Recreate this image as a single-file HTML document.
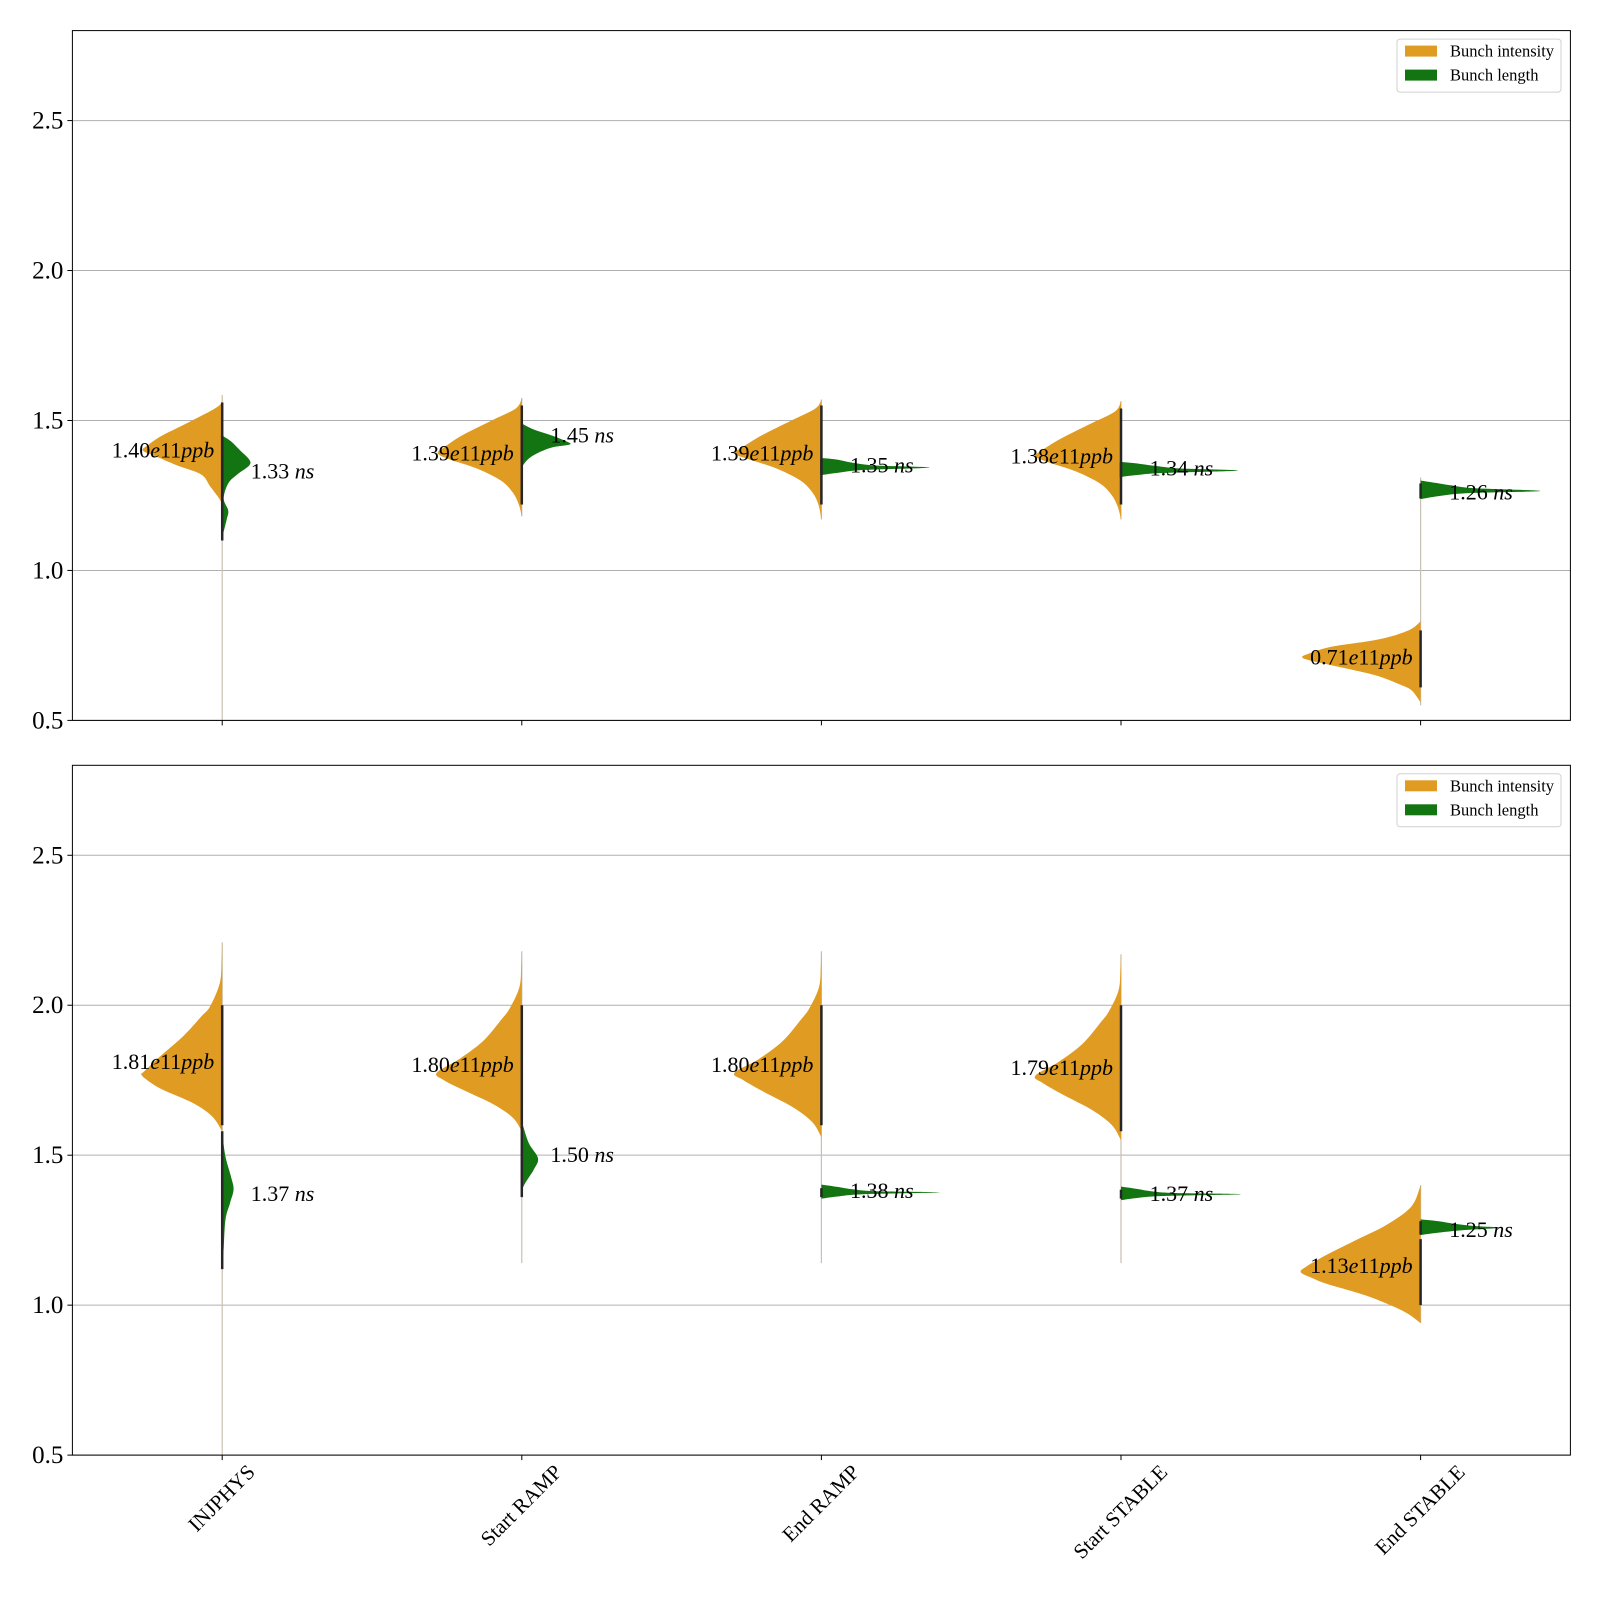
<!DOCTYPE html>
<html><head><meta charset="utf-8"><style>
html,body{margin:0;padding:0;background:#fff;}
svg{display:block;font-family:"Liberation Serif","DejaVu Serif",serif;}
</style></head><body>
<svg id="chart" width="1600" height="1600" viewBox="0 0 1600 1600" xmlns="http://www.w3.org/2000/svg"></svg>
<script>
const categories = ["INJPHYS","Start RAMP","End RAMP","Start STABLE","End STABLE"];
const yTicks = [0.5,1.0,1.5,2.0,2.5];
// profiles: [value, density(% of category spacing)]
const topOrange = [
 [[1.585,0],[1.55,1],[1.50,10],[1.45,20],[1.42,24.5],[1.40,26.5],[1.38,22],[1.35,15],[1.32,7],[1.28,4],[1.24,1],[1.22,0]],
 [[1.575,0],[1.54,2],[1.50,10],[1.45,20],[1.41,26],[1.39,28],[1.37,24],[1.34,15],[1.30,7],[1.26,3],[1.22,1],[1.18,0]],
 [[1.57,0],[1.54,2],[1.50,10],[1.45,20],[1.41,26.5],[1.39,29],[1.37,24],[1.34,15],[1.30,7],[1.26,3],[1.22,1],[1.17,0]],
 [[1.565,0],[1.53,2],[1.49,10],[1.44,20],[1.40,26.5],[1.38,28.6],[1.36,24],[1.33,15],[1.29,7],[1.25,3],[1.21,1],[1.17,0]],
 [[0.83,0],[0.80,4],[0.77,14],[0.745,30],[0.72,38],[0.71,39.5],[0.70,37],[0.68,28],[0.65,15],[0.62,7],[0.60,3],[0.56,0]]
];
const topGreen = [
 [[1.45,0],[1.43,3],[1.40,6],[1.37,9],[1.35,9],[1.32,5],[1.29,2],[1.24,0.5],[1.20,2],[1.17,1.5],[1.11,0]],
 [[1.49,0],[1.47,4],[1.45,10],[1.43,15],[1.42,16],[1.41,10],[1.39,5],[1.37,2],[1.345,0]],
 [[1.375,0],[1.37,5],[1.36,10],[1.35,18],[1.343,36],[1.335,14],[1.325,5],[1.318,0]],
 [[1.362,0],[1.356,6],[1.348,12],[1.34,20],[1.333,39],[1.325,14],[1.318,5],[1.312,0]],
 [[1.30,0],[1.292,5],[1.284,10],[1.274,18],[1.265,40],[1.258,16],[1.248,6],[1.238,0]]
];
const botOrange = [
 [[2.21,0],[2.152,0.2],[2.074,0.8],[1.997,4],[1.963,6.9],[1.897,13],[1.83,20.7],[1.78,26],[1.769,27],[1.75,25],[1.719,20],[1.674,9.8],[1.63,3.4],[1.58,0]],
 [[2.18,0],[2.13,0.2],[2.06,0.8],[1.99,4],[1.95,7],[1.88,13],[1.82,21],[1.775,28.4],[1.75,26],[1.715,19],[1.67,9.5],[1.625,3],[1.58,0]],
 [[2.18,0],[2.13,0.2],[2.06,0.8],[1.99,4],[1.95,7],[1.88,13],[1.82,21],[1.775,29],[1.75,26],[1.71,19],[1.66,9.5],[1.61,3],[1.56,0]],
 [[2.17,0],[2.12,0.2],[2.05,0.8],[1.98,4],[1.94,7],[1.87,13],[1.81,21],[1.765,28.6],[1.74,26],[1.70,19],[1.65,9.5],[1.60,3],[1.55,0]],
 [[1.40,0],[1.33,3],[1.27,11],[1.22,21],[1.17,31],[1.13,38],[1.11,40],[1.09,36],[1.07,31],[1.03,17.7],[0.98,5.8],[0.94,0]]
];
const botGreen = [
 [[1.58,0],[1.5,1],[1.43,2.9],[1.386,3.8],[1.34,2.6],[1.286,1.1],[1.19,0.5],[1.12,0]],
 [[1.613,0],[1.541,2.3],[1.49,5.4],[1.452,4],[1.397,0.6],[1.363,0]],
 [[1.402,0],[1.395,5],[1.387,10],[1.38,18],[1.376,39.5],[1.37,14],[1.362,5],[1.355,0]],
 [[1.395,0],[1.388,5],[1.38,10],[1.374,18],[1.37,40],[1.364,14],[1.357,5],[1.35,0]],
 [[1.286,0],[1.28,6],[1.272,11],[1.264,18],[1.258,26.6],[1.25,14],[1.242,6],[1.234,0]]
];
const topStick = [[0.5,1.585],[1.18,1.575],[1.17,1.57],[1.17,1.565],[0.55,1.31]];
const botStick = [[0.5,2.21],[1.14,2.18],[1.14,2.18],[1.14,2.17],[0.94,1.40]];
const topDarkO = [[1.24,1.56],[1.22,1.55],[1.22,1.55],[1.22,1.54],[0.61,0.80]];
const topDarkG = [[1.10,1.45],[1.36,1.49],[1.32,1.37],[1.31,1.36],[1.24,1.29]];
const botDarkO = [[1.6,2.0],[1.6,2.0],[1.6,2.0],[1.58,2.0],[1.0,1.22]];
const botDarkG = [[1.12,1.58],[1.36,1.6],[1.36,1.39],[1.355,1.385],[1.235,1.28]];
const topMedO = [1.40,1.39,1.39,1.38,0.71];
const topMedG = [1.33,1.45,1.35,1.34,1.26];
const botMedO = [1.81,1.80,1.80,1.79,1.13];
const botMedG = [1.37,1.50,1.38,1.37,1.25];

const NS="http://www.w3.org/2000/svg";
const svg=document.getElementById('chart');
const ORANGE="#e09b22", GREEN="#127512";
const X0=72.4, X1=1570.4, YMIN=0.5, YMAX=2.8;
const step=(X1-X0)/categories.length;
function xPos(i){return X0+(i+0.5)*step;}
function wPx(d){return d/100*step;}
function mk(tag,attrs,parent){const e=document.createElementNS(NS,tag);for(const k in attrs)e.setAttribute(k,attrs[k]);(parent||svg).appendChild(e);return e;}
function spline(pts){
  let d="";
  for(let i=0;i<pts.length-1;i++){
    const p0=pts[Math.max(0,i-1)],p1=pts[i],p2=pts[i+1],p3=pts[Math.min(pts.length-1,i+2)];
    const c1=[p1[0]+(p2[0]-p0[0])/6,p1[1]+(p2[1]-p0[1])/6];
    const c2=[p2[0]-(p3[0]-p1[0])/6,p2[1]-(p3[1]-p1[1])/6];
    d+=` C${c1[0].toFixed(1)},${c1[1].toFixed(1)} ${c2[0].toFixed(1)},${c2[1].toFixed(1)} ${p2[0].toFixed(1)},${p2[1].toFixed(1)}`;
  }
  return d;
}
function panel(top,bottom,name,orange,green,stick,darkO,darkG,medO,medG,showX){
  const g=mk('g',{});
  
  
  const yS=v=>top+(YMAX-v)/(YMAX-YMIN)*(bottom-top);
  yTicks.forEach(t=>{
    const l=mk('line',{x1:X0,x2:X1,y1:yS(t),y2:yS(t),stroke:'#b0b0b0','stroke-width':1},g);
    
    
    const tk=mk('line',{x1:X0-5,x2:X0,y1:yS(t),y2:yS(t),stroke:'#000','stroke-width':1},g);
    
    
    const tx=mk('text',{x:X0-9,y:yS(t)+8,'text-anchor':'end','font-size':25},g);
    tx.textContent=t.toFixed(1);
    
    
  });
  categories.forEach((c,i)=>{
    const cx=xPos(i);
    const tk=mk('line',{x1:cx,x2:cx,y1:bottom,y2:bottom+5,stroke:'#000','stroke-width':1},g);
    
    
    const st=mk('line',{x1:cx,x2:cx,y1:yS(stick[i][0]),y2:yS(stick[i][1]),stroke:'#c9c0b0','stroke-width':1.2},g);
    
    
    const po=orange[i].map(p=>[cx-wPx(p[1]),yS(p[0])]);
    const ho=mk('path',{d:`M${po[0][0]},${po[0][1]}`+spline(po)+' Z',fill:ORANGE},g);
    
    
    const pg=green[i].map(p=>[cx+wPx(p[1]),yS(p[0])]);
    const hg=mk('path',{d:`M${pg[0][0]},${pg[0][1]}`+spline(pg)+' Z',fill:GREEN},g);
    
    
    const d1=mk('line',{x1:cx,x2:cx,y1:yS(darkO[i][0]),y2:yS(darkO[i][1]),stroke:'#262626','stroke-width':2.5},g);
    
    
    const d2=mk('line',{x1:cx,x2:cx,y1:yS(darkG[i][0]),y2:yS(darkG[i][1]),stroke:'#262626','stroke-width':2.5},g);
    
    
    const to=mk('text',{x:cx-8,y:yS(medO[i])+7,'text-anchor':'end','font-size':22},g);
    to.innerHTML=medO[i].toFixed(2)+'<tspan font-style="italic">e</tspan>11<tspan font-style="italic">ppb</tspan>';
    
    
    const tg=mk('text',{x:cx+28.6,y:yS(medG[i])+7,'font-size':22},g);
    tg.innerHTML=medG[i].toFixed(2)+' <tspan font-style="italic">ns</tspan>';
    
    
    if(showX){
      const lx=mk('text',{'text-anchor':'middle','font-size':21},g);
      lx.textContent=c;
      
      
      const L=lx.getComputedTextLength();
      const cy=bottom+9+(L+14)*0.7071/2;
      lx.setAttribute('x',cx);lx.setAttribute('y',cy+6);
      lx.setAttribute('transform',`rotate(-45 ${cx} ${cy})`);
    }
  });
  const fr=mk('rect',{x:X0,y:top,width:X1-X0,height:bottom-top,fill:'none',stroke:'#000','stroke-width':1},g);
  
  
  const lg=mk('g',{},g);
  
  
  mk('rect',{x:1397,y:top+8.5,width:164,height:53,rx:3,fill:'#fff',stroke:'#d0d0d0','stroke-width':1},lg);
  [["Bunch intensity",ORANGE],["Bunch length",GREEN]].forEach((e,k)=>{
    const row=mk('g',{},lg);
    
    
    mk('rect',{x:1405,y:top+15+k*24,width:32,height:11,fill:e[1]},row);
    const t=mk('text',{x:1450,y:top+26+k*24,'font-size':16.5},row);
    t.textContent=e[0];
  });
}
panel(30.6,720.4,'top-panel',topOrange,topGreen,topStick,topDarkO,topDarkG,topMedO,topMedG,false);
panel(765.3,1455.1,'bottom-panel',botOrange,botGreen,botStick,botDarkO,botDarkG,botMedO,botMedG,true);
</script>
</body></html>
